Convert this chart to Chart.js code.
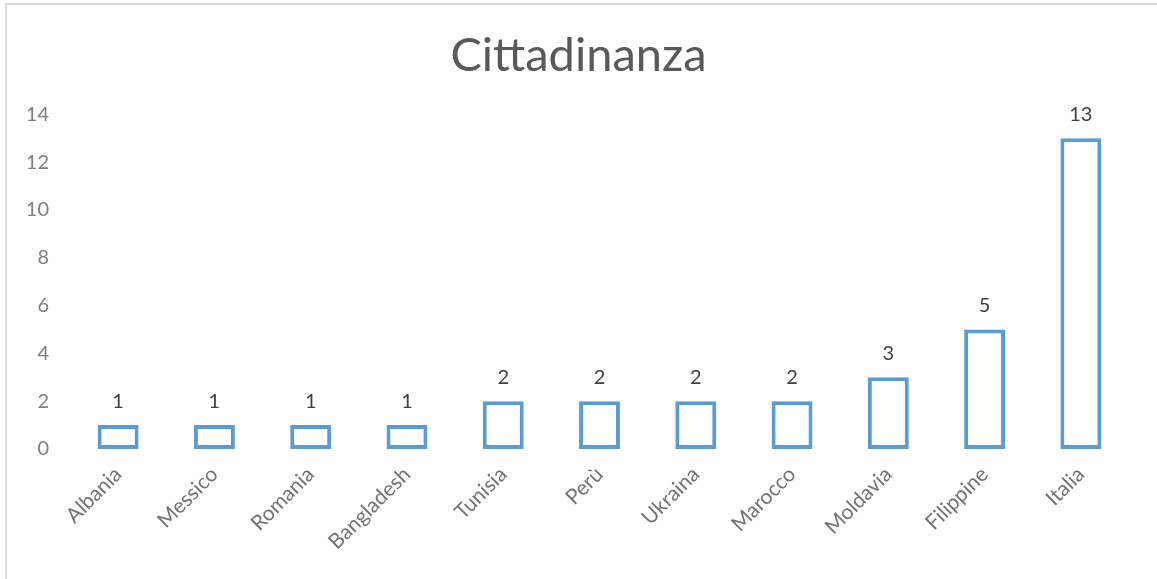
<!DOCTYPE html>
<html>
<head>
<meta charset="utf-8">
<script src="https://cdn.jsdelivr.net/npm/chart.js@4.4.1/dist/chart.umd.min.js"></script>
<style>
    body { margin: 0; background: #fff; overflow: hidden; }
    #frame {
        position: absolute; left: 5px; top: 3px; width: 1200px; height: 620px;
        border-top: 2px solid #d9d9d9; border-left: 2px solid #d9d9d9;
    }
    #chart { position: absolute; left: 0; top: 0; }
</style>
</head>
<body>
<div id="frame"></div>
<canvas id="chart" width="1157" height="579"></canvas>
<script>
const countries = ['Albania', 'Messico', 'Romania', 'Bangladesh', 'Tunisia', 'Perù', 'Ukraina', 'Marocco', 'Moldavia', 'Filippine', 'Italia'];
const counts = [1, 1, 1, 1, 2, 2, 2, 2, 3, 5, 13];
const yTicks = [0, 2, 4, 6, 8, 10, 12, 14];

Chart.defaults.font.family = 'Lato, "Open Sans", sans-serif';

// values above each bar
const valueLabels = {
    id: 'valueLabels',
    afterDatasetsDraw(chart) {
        const ctx = chart.ctx;
        const meta = chart.getDatasetMeta(0);
        ctx.save();
        ctx.font = '20px Lato, "Open Sans", sans-serif';
        ctx.fillStyle = '#404040';
        ctx.textAlign = 'center';
        ctx.textBaseline = 'middle';
        meta.data.forEach((bar, i) => {
            ctx.fillText(String(counts[i]), bar.x, bar.y - 24);
        });
        ctx.restore();
    }
};

const ctx = document.getElementById('chart').getContext('2d');
new Chart(ctx, {
    type: 'bar',
    data: {
        labels: countries,
        datasets: [{
            label: 'Cittadinanza',
            data: counts,
            backgroundColor: '#ffffff',
            borderColor: '#5b9bd5',
            borderWidth: 4,
            borderSkipped: false,
            barPercentage: 0.425,
            categoryPercentage: 1
        }]
    },
    options: {
        responsive: false,
        animation: false,
        layout: { padding: { left: 28, right: 28, top: 0, bottom: 0 } },
        plugins: {
            legend: { display: false },
            tooltip: { enabled: false },
            title: {
                display: true,
                text: 'Cittadinanza',
                color: '#595959',
                font: { size: 47, weight: 'normal' },
                padding: { top: 28, bottom: 30 }
            }
        },
        scales: {
            x: {
                grid: { display: false, drawTicks: false },
                border: { display: false },
                ticks: {
                    color: '#737373',
                    font: { size: 21 },
                    minRotation: 45,
                    maxRotation: 45,
                    padding: 13
                },
                afterFit(scale) { scale.height = 130; }
            },
            y: {
                min: 0,
                max: 14,
                grid: { display: false, drawTicks: false },
                border: { display: false },
                afterBuildTicks(scale) { scale.ticks = yTicks.map(v => ({ value: v })); },
                ticks: {
                    color: '#7f7f7f',
                    font: { size: 20 },
                    padding: 21
                },
                afterFit(scale) { scale.width = 42; }
            }
        }
    },
    plugins: [valueLabels]
});
</script>
</body>
</html>
